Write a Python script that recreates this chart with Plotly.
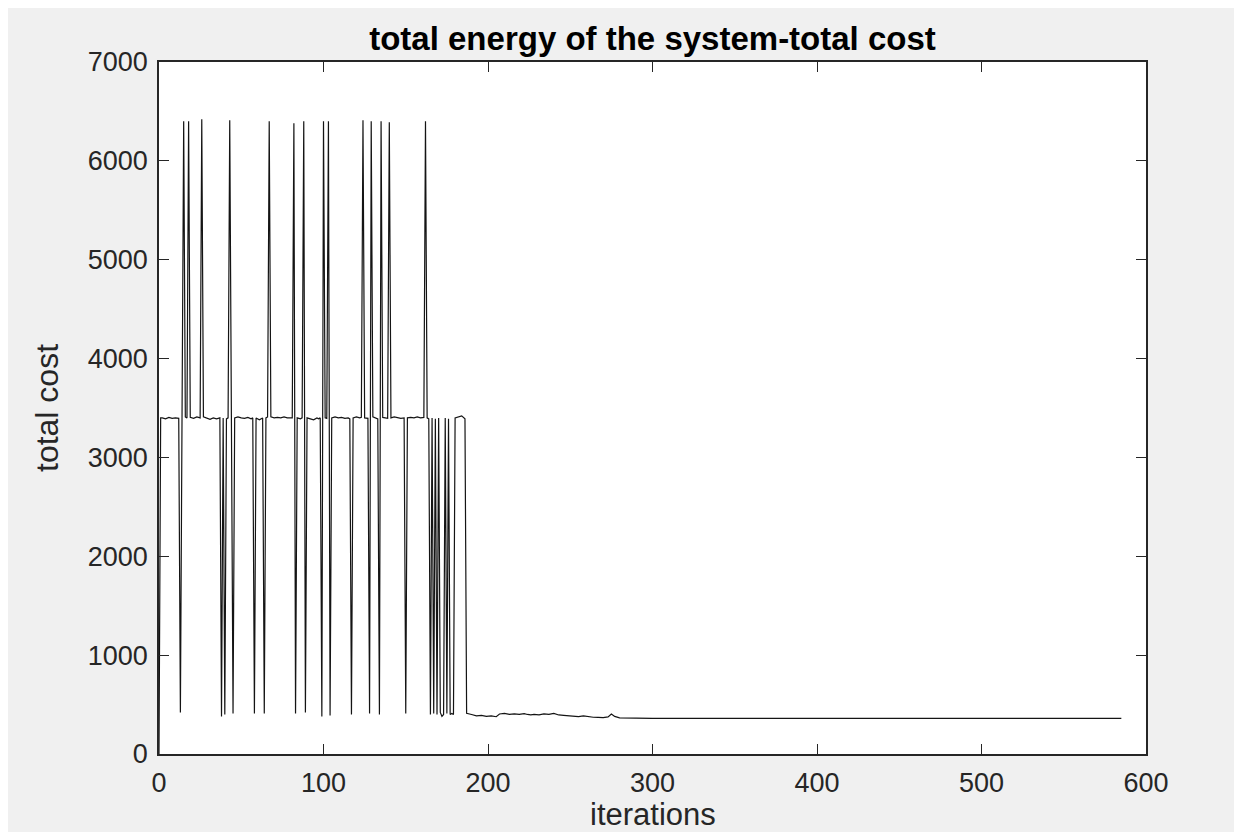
import plotly.graph_objects as go

# ---- data (vertices of the cost trace: iteration -> total cost) ----
iterations = [
    0, 1, 2, 4, 6, 8, 10, 12, 13, 14, 15, 16, 17, 18, 19, 21, 23, 25, 26, 27, 29,
    31, 33, 35, 37, 38, 39, 40, 41, 42, 43, 44, 45, 46, 48, 50, 52, 54, 56, 57, 58,
    59, 61, 63, 64, 65, 66, 67, 68, 70, 72, 74, 76, 78, 80, 81, 82, 83, 84, 86, 87,
    88, 89, 90, 92, 94, 96, 97, 98, 99, 100, 101, 102, 103, 104, 105, 107, 109, 111, 113, 115,
    116, 117, 118, 120, 122, 123, 124, 125, 127, 128, 129, 130, 132, 133, 134, 135, 136, 138, 139, 140,
    141, 143, 145, 147, 149, 150, 151, 153, 155, 157, 159, 161, 162, 163, 164, 165, 166, 167, 168, 169,
    170, 171, 172, 173, 174, 175, 176, 177, 178, 179, 180, 182, 184, 186, 187, 190, 193, 196, 199, 202,
    205, 207, 210, 213, 216, 219, 222, 224, 226, 228, 231, 234, 237, 240, 243, 246, 249, 252, 255, 258,
    261, 264, 267, 270, 273, 275, 277, 280, 290, 300, 585,
]
total_cost = [
    0, 3400, 3400, 3390, 3405, 3395, 3400, 3395, 420, 3400, 6400, 3410, 3400, 6400, 3405, 3395, 3410, 3400, 6420, 3410, 3395,
    3385, 3400, 3390, 3400, 380, 3400, 400, 3390, 3400, 6410, 3400, 410, 3400, 3410, 3400, 3395, 3405, 3390, 3400, 410,
    3400, 3380, 3400, 410, 3400, 3410, 6400, 3410, 3400, 3405, 3400, 3410, 3400, 3405, 3400, 6380, 410, 3400, 3390, 3400,
    6400, 420, 3400, 3390, 3380, 3400, 3390, 3400, 380, 6400, 3400, 3395, 6400, 390, 3400, 3410, 3400, 3405, 3395, 3400,
    3390, 400, 3400, 3410, 3400, 3405, 6410, 3400, 3395, 410, 6400, 3410, 3400, 3390, 400, 6400, 3405, 3400, 3395, 6390,
    3400, 3410, 3400, 3395, 3400, 410, 3400, 3405, 3400, 3410, 3400, 3405, 6400, 3400, 3390, 400, 3400, 410, 3390, 400,
    3400, 420, 380, 400, 3400, 410, 3390, 400, 410, 400, 3400, 3410, 3420, 3390, 411, 400, 385, 390, 380, 385,
    377, 405, 410, 400, 405, 400, 408, 400, 395, 400, 395, 405, 400, 410, 395, 390, 385, 380, 378, 385,
    375, 372, 370, 368, 375, 404, 380, 365, 362, 360, 360,
]

x_ticks = [0, 100, 200, 300, 400, 500, 600]
y_ticks = [0, 1000, 2000, 3000, 4000, 5000, 6000, 7000]

title_text = "total energy of the system-total cost"
x_label = "iterations"
y_label = "total cost"

# ---- figure geometry (page body adds an 8px offset) ----
W, H = 1242, 832
L, R, T, B = 151, 104, 54, 86

FONT = "Liberation Sans, Arial, Helvetica, sans-serif"
AX = "#262626"

fig = go.Figure()
fig.add_trace(go.Scatter(
    x=iterations, y=total_cost, mode="lines",
    line=dict(color="#141414", width=1.2),
    showlegend=False, hoverinfo="x+y",
))

axis_common = dict(
    showgrid=False, zeroline=False, showline=True, linecolor=AX, linewidth=1.5,
    mirror="ticks", ticks="inside", ticklen=10, tickwidth=1, tickcolor=AX,
    tickfont=dict(family=FONT, size=27, color=AX),
)

fig.update_layout(
    width=W, height=H,
    margin=dict(l=L, r=R, t=T, b=B, pad=0),
    paper_bgcolor="#f0f0f0", plot_bgcolor="#ffffff",
    xaxis=dict(range=[0, 600], tickvals=x_ticks, ticktext=[str(v) for v in x_ticks],
               ticklabelstandoff=4, **axis_common),
    yaxis=dict(range=[0, 7000], tickvals=y_ticks, ticktext=[str(v) for v in y_ticks],
               ticklabelstandoff=4, **axis_common),
    title=dict(text="<b>" + title_text + "</b>", x=(L + (W - L - R) / 2) / W, xanchor="center",
               y=1 - 30 / H, yanchor="middle",
               font=dict(family=FONT, size=33, color="#000000")),
    annotations=[
        dict(text=x_label, xref="paper", yref="paper", x=0.5, y=0, xanchor="center",
             yanchor="middle", yshift=-60, showarrow=False,
             font=dict(family=FONT, size=31, color=AX)),
        dict(text=y_label, xref="paper", yref="paper", x=0, y=0.5, xanchor="center",
             yanchor="middle", xshift=-112, textangle=-90, showarrow=False,
             font=dict(family=FONT, size=32, color=AX)),
    ],
)

fig.write_html("out.html")
